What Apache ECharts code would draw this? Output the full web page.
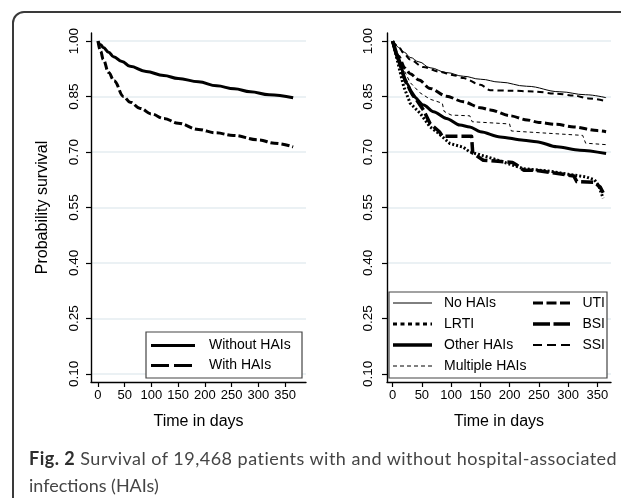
<!DOCTYPE html>
<html>
<head>
<meta charset="utf-8">
<script src="https://cdn.jsdelivr.net/npm/echarts@6/dist/echarts.min.js"></script>
<style>
  html, body { margin: 0; padding: 0; background: #fff; }
  body { width: 621px; height: 498px; position: relative; overflow: hidden; }
  .card {
    position: absolute; left: 12px; top: 11px; width: 640px; height: 520px;
    border: 2px solid #3a3a3a; border-radius: 12px; box-sizing: border-box;
  }
  #chart { position: absolute; left: 0; top: 0; width: 621px; height: 498px; }
  .cap {
    position: absolute; left: 29px; white-space: nowrap; color: #454545;
    font-family: "Lato", "Open Sans", sans-serif; font-size: 18px; line-height: 22px;
  }
  .cap b { color: #2e2e2e; }
</style>
</head>
<body>
<div class="card"></div>
<div id="chart"></div>
<div class="cap" id="cap1" style="top:447px"><b>Fig. 2</b> Survival of 19,468 patients with and without hospital-associated</div>
<div class="cap" id="cap2" style="top:474px">infections (HAIs)</div>
<script>
// tick labels
const dayTicks = [0, 50, 100, 150, 200, 250, 300, 350];
const survTicks = [0.10, 0.25, 0.40, 0.55, 0.70, 0.85, 1.00];

// left panel: [day, survival]
const withoutHAIs = [[0,1],[5,0.99],[10,0.983],[20,0.97],[29,0.958],[45,0.945],[60,0.932],[90,0.918],[123,0.907],[150,0.899],[188,0.89],[222,0.879],[255,0.871],[285,0.863],[320,0.855],[365,0.847]];
const withHAIs = [[0,1],[5,0.973],[10,0.95],[20,0.915],[30,0.893],[48,0.85],[60,0.835],[79,0.818],[100,0.803],[123,0.791],[150,0.778],[188,0.761],[220,0.752],[253,0.745],[300,0.733],[330,0.724],[365,0.714]];

// right panel: [day, survival]
const noHAIs = [[0,1],[5,0.99],[10,0.983],[20,0.97],[30,0.956],[45,0.944],[64,0.928],[92,0.915],[121,0.905],[150,0.897],[184,0.889],[229,0.878],[286,0.863],[330,0.855],[365,0.847]];
const lrti = [[0,1],[10,0.935],[19,0.877],[30,0.832],[47,0.805],[64,0.768],[76,0.754],[98,0.723],[121,0.713],[132,0.70],[144,0.695],[172,0.682],[224,0.655],[250,0.651],[270,0.648],[300,0.64],[330,0.633],[345,0.625],[352,0.61],[360,0.575]];
const otherHAIs = [[0,1],[10,0.95],[24,0.886],[36,0.85],[53,0.827],[70,0.809],[92,0.791],[115,0.773],[132,0.768],[150,0.755],[184,0.741],[224,0.732],[246,0.728],[281,0.714],[320,0.705],[365,0.696]];
const multipleHAIs = [[0,1],[10,0.96],[20,0.92],[30,0.888],[47,0.86],[64,0.843],[85,0.832],[88,0.81],[100,0.80],[132,0.798],[136,0.782],[200,0.776],[203,0.757],[325,0.745],[330,0.724],[365,0.72]];
const uti = [[0,1],[10,0.96],[21,0.927],[30,0.912],[45,0.895],[64,0.872],[92,0.851],[121,0.836],[150,0.82],[167,0.814],[201,0.798],[230,0.787],[250,0.78],[280,0.775],[310,0.768],[350,0.758],[365,0.755]];
const bsi = [[0,1],[10,0.95],[20,0.9],[30,0.867],[53,0.813],[64,0.777],[80,0.755],[85,0.743],[135,0.743],[137,0.697],[155,0.678],[180,0.675],[205,0.672],[212,0.665],[224,0.651],[241,0.651],[270,0.645],[310,0.635],[315,0.62],[345,0.618],[355,0.605],[360,0.59]];
const ssi = [[0,1],[10,0.985],[20,0.965],[30,0.95],[52,0.93],[81,0.917],[104,0.908],[121,0.9],[150,0.882],[167,0.867],[200,0.866],[240,0.864],[280,0.858],[310,0.853],[335,0.845],[365,0.838]];

const FONT = '"Liberation Sans", Arial, sans-serif';
const chart = echarts.init(document.getElementById('chart'), null, { renderer: 'canvas' });

function xAxis(idx, min, max) {
  return {
    type: 'value', gridIndex: idx, min: min, max: max,
    name: 'Time in days', nameLocation: 'middle', nameGap: 32,
    nameTextStyle: { fontSize: 16, color: '#000', fontFamily: FONT },
    axisLine: { onZero: false, lineStyle: { color: '#000', width: 1.4 } },
    axisTick: { length: 5, customValues: dayTicks, lineStyle: { color: '#000', width: 1.2 } },
    axisLabel: { customValues: dayTicks, fontSize: 13, color: '#000', fontFamily: FONT, margin: 7 },
    splitLine: { show: false }
  };
}
function yAxis(idx, withName, margin) {
  return {
    type: 'value', gridIndex: idx, min: 0.078, max: 1.022,
    name: withName ? 'Probability survival' : '', nameLocation: 'middle', nameGap: 40,
    nameTextStyle: { fontSize: 16, color: '#000', fontFamily: FONT },
    axisLine: { show: true, onZero: false, lineStyle: { color: '#000', width: 1.4 } },
    axisTick: { show: true, length: 5, customValues: survTicks, lineStyle: { color: '#000', width: 1.2 } },
    axisLabel: { customValues: survTicks, rotate: 90, fontSize: 13.5, color: '#000', fontFamily: FONT,
                 margin: margin, formatter: v => v.toFixed(2) },
    splitLine: { show: true, lineStyle: { color: '#e5ecf0', width: 1.6 } }
  };
}
function line(data, idx, width, dash, smooth) {
  return {
    type: 'line', xAxisIndex: idx, yAxisIndex: idx, data: data, showSymbol: false, symbol: 'none',
    smooth: smooth || false, smoothMonotone: 'x',
    lineStyle: { color: '#000', width: width, type: dash, cap: 'butt', join: 'round' }
  };
}

// legend drawn with graphic pieces so the two-column Stata layout can be kept
function legendItem(x1, x2, y, width, dash, label, tx, align) {
  return [
    { type: 'line', shape: { x1: x1, y1: y, x2: x2, y2: y },
      style: { stroke: '#000', lineWidth: width, lineDash: dash, lineCap: 'butt' }, z: 20 },
    { type: 'text', x: tx, y: y, style: { text: label, fontSize: 14, fontFamily: FONT, fill: '#000',
      textVerticalAlign: 'middle', textAlign: align || 'left' }, z: 20 }
  ];
}
const legendGraphics = [
  { type: 'rect', shape: { x: 146, y: 332, width: 156, height: 46 },
    style: { fill: '#fff', stroke: '#444', lineWidth: 1.2 }, z: 19 },
  ...legendItem(151, 195, 345.5, 3, null, 'Without HAIs', 209),
  ...legendItem(151, 195, 365.5, 3, [18, 5], 'With HAIs', 209),
  { type: 'rect', shape: { x: 389, y: 292, width: 218, height: 86 },
    style: { fill: '#fff', stroke: '#444', lineWidth: 1.2 }, z: 19 },
  ...legendItem(393, 432, 303, 1, null, 'No HAIs', 444),
  ...legendItem(393, 432, 324, 3, [4, 3.5], 'LRTI', 444),
  ...legendItem(393, 432, 345, 3.5, null, 'Other HAIs', 444),
  ...legendItem(393, 432, 366, 1, [4, 3], 'Multiple HAIs', 444),
  ...legendItem(533, 570, 303, 3, [10, 3.5], 'UTI', 605, 'right'),
  ...legendItem(533, 570, 324, 3.5, [17, 3.5], 'BSI', 605, 'right'),
  ...legendItem(533, 570, 345, 2, [9, 5], 'SSI', 605, 'right')
];

chart.setOption({
  animation: false,
  grid: [
    { left: 91, top: 33, width: 215, height: 349 },
    { left: 387, top: 33, width: 224, height: 349 }
  ],
  xAxis: [xAxis(0, -13, 389), xAxis(1, -9.6, 373.4)],
  yAxis: [yAxis(0, true, 10), yAxis(1, false, 12)],
  series: [
    line(withoutHAIs, 0, 3, 'solid', 0.4),
    line(withHAIs, 0, 3, [8, 3], 0.4),
    line(noHAIs, 1, 1, 'solid', 0.4),
    line(ssi, 1, 2, [6, 4], 0.3),
    line(uti, 1, 3, [8, 3.5], 0.3),
    line(multipleHAIs, 1, 1, [3.5, 3]),
    line(otherHAIs, 1, 3, 'solid', 0.3),
    line(bsi, 1, 3.5, [12, 4]),
    line(lrti, 1, 3, [2, 2])
  ],
  graphic: legendGraphics
});

// stretch caption line to the width used in the figure
const cap1 = document.getElementById('cap1');
const natural = cap1.getBoundingClientRect().width;
const chars = cap1.textContent.length;
cap1.style.letterSpacing = ((588 - natural) / (chars - 1)) + 'px';
</script>
</body>
</html>
